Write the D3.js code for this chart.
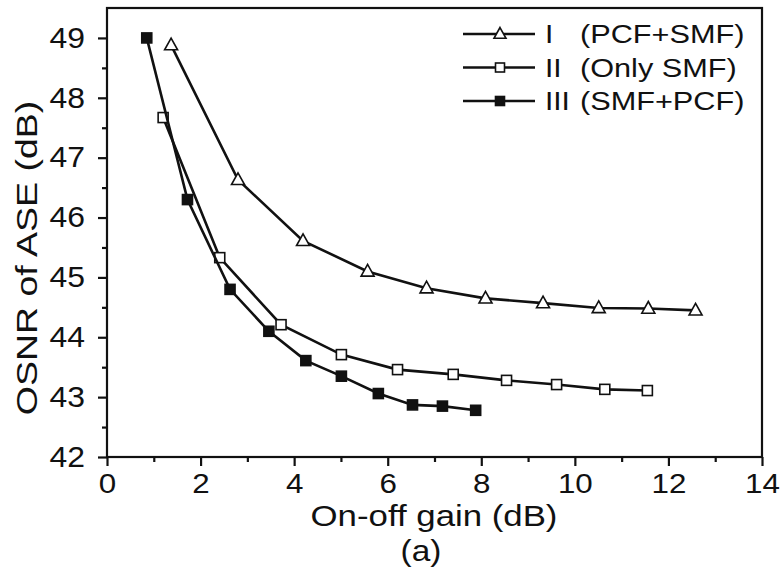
<!DOCTYPE html>
<html><head><meta charset="utf-8">
<script src="https://cdn.jsdelivr.net/npm/d3@7"></script>
<style>body{margin:0;background:#fff}</style></head>
<body>
<svg id="c" width="784" height="570"></svg>
<script>
// Series I (PCF+SMF) – open triangles
const xI=[1.37,2.80,4.19,5.57,6.83,8.09,9.32,10.51,11.57,12.58];
const yI=[48.88,46.63,45.61,45.10,44.82,44.65,44.57,44.49,44.48,44.45];
// Series II (Only SMF) – open squares
const xII=[1.20,2.41,3.72,5.01,6.21,7.40,8.54,9.61,10.64,11.55];
const yII=[47.67,45.33,44.21,43.71,43.46,43.38,43.28,43.21,43.13,43.11];
// Series III (SMF+PCF) – filled squares
const xIII=[0.85,1.72,2.63,3.46,4.25,5.01,5.80,6.53,7.17,7.88];
const yIII=[49.00,46.30,44.80,44.10,43.61,43.35,43.06,42.87,42.85,42.78];

const xTicks=[0,2,4,6,8,10,12,14];
const xMinor=[1,3,5,7,9,11,13];
const yTicks=[42,43,44,45,46,47,48,49];
const yMinor=[42.5,43.5,44.5,45.5,46.5,47.5,48.5];
const numerals=["I","II","III"];
const names=["(PCF+SMF)","(Only SMF)","(SMF+PCF)"];
const xTitle="On-off gain (dB)";
const yTitle="OSNR of ASE (dB)";
const caption="(a)";

const FONT="'Liberation Sans', Arial, sans-serif";
const svg=d3.select("#c");
const x=d3.scaleLinear().domain([0,14]).range([107,762]);
const y=d3.scaleLinear().domain([42,49.5]).range([457,8]);

// frame
svg.append("rect").attr("x",x(0)).attr("y",y(49.5)).attr("width",x(14)-x(0)).attr("height",y(42)-y(49.5))
  .attr("fill","none").attr("stroke","#111").attr("stroke-width",2.2);

// axes
const gx=svg.append("g").attr("transform",`translate(0,${y(42)})`)
  .call(d3.axisBottom(x).tickValues(xTicks).tickSize(9).tickPadding(7).tickFormat(d3.format("d")));
const gxm=svg.append("g").attr("transform",`translate(0,${y(42)})`)
  .call(d3.axisBottom(x).tickValues(xMinor).tickSize(5).tickFormat(""));
const gy=svg.append("g").attr("transform",`translate(${x(0)},0)`)
  .call(d3.axisLeft(y).tickValues(yTicks).tickSize(9).tickPadding(14).tickFormat(d3.format("d")));
const gym=svg.append("g").attr("transform",`translate(${x(0)},0)`)
  .call(d3.axisLeft(y).tickValues(yMinor).tickSize(5).tickFormat(""));
[gx,gxm,gy,gym].forEach(g=>{
  g.select(".domain").remove();
  g.selectAll("line").attr("stroke","#111").attr("stroke-width",2.2);
});
gx.selectAll("text").attr("font-family",FONT).attr("font-size",28).attr("fill","#111")
  .attr("transform","scale(1.12,1)");
gy.selectAll("text").attr("font-family",FONT).attr("font-size",29).attr("fill","#111")
  .attr("x",0).attr("transform","translate(-22,0) scale(1.1,1)");

// titles
svg.append("text").attr("font-family",FONT).attr("font-size",29.5).attr("fill","#111")
  .attr("text-anchor","middle").attr("transform","translate(434,526) scale(1.18,1)").text(xTitle);
svg.append("text").attr("font-family",FONT).attr("font-size",29).attr("fill","#111")
  .attr("text-anchor","middle").attr("transform","translate(421,561) scale(1.15,1)").text(caption);
svg.append("text").attr("font-family",FONT).attr("font-size",30).attr("fill","#111")
  .attr("text-anchor","middle").attr("transform","translate(37,258) rotate(-90) scale(1.25,1)").text(yTitle);

// series
const series=[
  {xs:xI,ys:yI,type:"tri",fill:"#fff"},
  {xs:xII,ys:yII,type:"sq",fill:"#fff"},
  {xs:xIII,ys:yIII,type:"sq",fill:"#111"}
];
const line=d3.line().x(d=>x(d[0])).y(d=>y(d[1]));
function marker(g,type,fill,cx,cy,s){
  if(type==="tri"){
    const h=s*0.9;
    g.append("path").attr("d",`M${cx},${cy-h*0.6}L${cx+s/2},${cy+h*0.4}L${cx-s/2},${cy+h*0.4}Z`)
      .attr("fill",fill).attr("stroke","#111").attr("stroke-width",1.6);
  } else {
    g.append("rect").attr("x",cx-s/2).attr("y",cy-s/2).attr("width",s).attr("height",s)
      .attr("fill",fill).attr("stroke","#111").attr("stroke-width",1.6);
  }
}
series.forEach(s=>{
  const pts=s.xs.map((v,i)=>[v,s.ys[i]]);
  svg.append("path").datum(pts).attr("d",line).attr("fill","none").attr("stroke","#111").attr("stroke-width",2.6);
  const g=svg.append("g");
  pts.forEach(p=>marker(g,s.type,s.fill,x(p[0]),y(p[1]),s.type==="tri"?13:10));
});

// legend
const ly=d3.scalePoint().domain(numerals).range([34,101]);
numerals.forEach((n,i)=>{
  const yy=ly(n);
  svg.append("line").attr("x1",463).attr("x2",535).attr("y1",yy).attr("y2",yy).attr("stroke","#111").attr("stroke-width",2.4);
  marker(svg,series[i].type,series[i].fill,500,yy,series[i].type==="tri"?12:9);
  svg.append("text").attr("font-family",FONT).attr("font-size",26).attr("fill","#111")
    .attr("transform",`translate(545,${yy+9}) scale(1.15,1)`).text(n);
  svg.append("text").attr("font-family",FONT).attr("font-size",26).attr("fill","#111")
    .attr("transform",`translate(580,${yy+9}) scale(1.18,1)`).text(names[i]);
});
</script>
</body></html>
